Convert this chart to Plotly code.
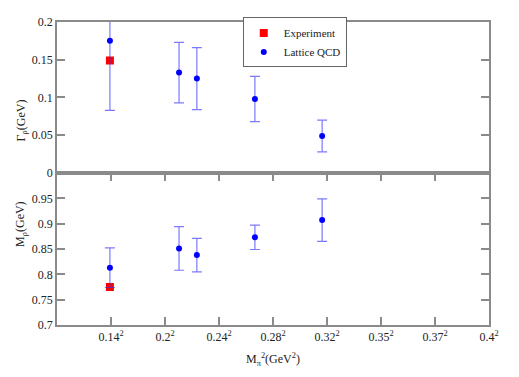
import plotly.graph_objects as go

# ---- data ----
x_tickvals = [0.02, 0.04, 0.06, 0.08, 0.10, 0.12, 0.14, 0.16]
x_ticktext = ["0.14<sup>2</sup>", "0.2<sup>2</sup>", "0.24<sup>2</sup>", "0.28<sup>2</sup>",
              "0.32<sup>2</sup>", "0.35<sup>2</sup>", "0.37<sup>2</sup>", "0.4<sup>2</sup>"]

lat_x = [0.0196, 0.0452, 0.0518, 0.0733, 0.0982]
lat_gamma = [0.175, 0.133, 0.125, 0.098, 0.049]
lat_gamma_err = [0.092, 0.040, 0.041, 0.030, 0.021]
lat_mass = [0.813, 0.851, 0.838, 0.873, 0.907]
lat_mass_err = [0.039, 0.043, 0.033, 0.024, 0.042]

exp_x = [0.0196]
exp_gamma = [0.149]
exp_mass = [0.775]

upper_yticks = [0, 0.05, 0.1, 0.15, 0.2]
upper_yticktext = ["0", "0.05", "0.1", "0.15", "0.2"]
lower_yticks = [0.7, 0.75, 0.8, 0.85, 0.9, 0.95]
lower_yticktext = ["0.7", "0.75", "0.8", "0.85", "0.9", "0.95"]

# ---- styles ----
FONT = "'Liberation Serif', 'Times New Roman', Times, serif"
FRAME = "#8a8a8a"
BLUE = "#0000ff"
ERR = "rgba(50,50,255,0.65)"
RED = "#ff0000"

fig = go.Figure()

fig.add_trace(go.Scatter(x=exp_x, y=exp_gamma, mode="markers", name="Experiment",
                         marker=dict(symbol="square", size=8, color=RED),
                         xaxis="x", yaxis="y", legendrank=1))
fig.add_trace(go.Scatter(x=lat_x, y=lat_gamma, mode="markers", name="Lattice QCD",
                         marker=dict(symbol="circle", size=6, color=BLUE),
                         error_y=dict(type="data", array=lat_gamma_err, color=ERR, thickness=1.2, width=5),
                         xaxis="x", yaxis="y", legendrank=2))
fig.add_trace(go.Scatter(x=exp_x, y=exp_mass, mode="markers", name="Experiment", showlegend=False,
                         marker=dict(symbol="square", size=8, color=RED),
                         xaxis="x2", yaxis="y2"))
fig.add_trace(go.Scatter(x=lat_x, y=lat_mass, mode="markers", name="Lattice QCD", showlegend=False,
                         marker=dict(symbol="circle", size=6, color=BLUE),
                         error_y=dict(type="data", array=lat_mass_err, color=ERR, thickness=1.2, width=5),
                         xaxis="x2", yaxis="y2"))

axis_common = dict(showline=True, linecolor=FRAME, linewidth=1.5, showgrid=False, zeroline=False,
                   ticklen=8, tickcolor=FRAME, tickwidth=1.5,
                   tickfont=dict(family=FONT, size=12, color="#222"))

split = 0.5017
fig.update_layout(
    width=519, height=377,
    margin=dict(l=57, r=30, t=22, b=52),
    paper_bgcolor="white", plot_bgcolor="white",
    font=dict(family=FONT, color="#222"),
    xaxis=dict(**axis_common, ticks="", range=[0, 0.16], domain=[0, 1], anchor="y",
               tickvals=x_tickvals, showticklabels=False, mirror=True),
    yaxis=dict(**axis_common, ticks="inside", range=[0, 0.2], domain=[split, 1], anchor="x",
               tickvals=upper_yticks, ticktext=upper_yticktext, mirror="ticks"),
    xaxis2=dict(**axis_common, ticks="inside", range=[0, 0.16], domain=[0, 1], anchor="y2",
                tickvals=x_tickvals, ticktext=x_ticktext, mirror="ticks"),
    yaxis2=dict(**axis_common, ticks="inside", range=[0.7, 1.0], domain=[0, split], anchor="x2",
                tickvals=lower_yticks, ticktext=lower_yticktext, mirror="ticks"),
    legend=dict(x=0.43, y=1.015, xanchor="left", yanchor="top",
                bgcolor="white", bordercolor="#666", borderwidth=1,
                font=dict(family=FONT, size=11, color="#222"), tracegroupgap=0),
    showlegend=True,
)

fig.add_annotation(text="Γ<sub>ρ</sub>(GeV)", xref="paper", yref="paper", x=-0.105, y=0.75,
                   textangle=-90, showarrow=False, font=dict(family=FONT, size=12, color="#222"))
fig.add_annotation(text="M<sub>ρ</sub>(GeV)", xref="paper", yref="paper", x=-0.105, y=0.25,
                   textangle=-90, showarrow=False, font=dict(family=FONT, size=12, color="#222"))
fig.add_annotation(text="M<sub>π</sub><sup>2</sup>(GeV<sup>2</sup>)", xref="paper", yref="paper",
                   x=0.50, y=-0.115, yanchor="middle", showarrow=False,
                   font=dict(family=FONT, size=12, color="#222"))

fig.write_html("out.html")
